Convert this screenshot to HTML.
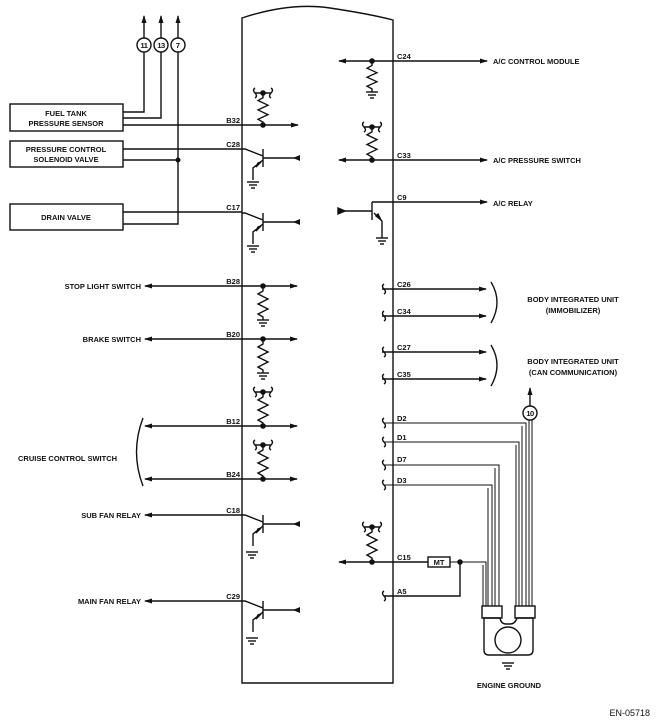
<!DOCTYPE html>
<html><head><meta charset="utf-8"><style>
html,body{margin:0;padding:0;background:#fff;}
svg{display:block;}
text{font-family:"Liberation Sans",sans-serif;font-weight:bold;font-size:7.5px;fill:#111;}
</style></head><body>
<svg width="660" height="726" viewBox="0 0 660 726" xmlns="http://www.w3.org/2000/svg">
<defs>
<marker id="ar" markerWidth="8" markerHeight="6" refX="7" refY="3" orient="auto" markerUnits="userSpaceOnUse"><path d="M0,0.5 L8,3 L0,5.5z" fill="#111"/></marker>
<g id="gnd"><line x1="-6" y1="0" x2="6" y2="0"/><line x1="-4" y1="3" x2="4" y2="3"/><line x1="-2" y1="6" x2="2" y2="6"/></g>
<g id="res"><polyline points="0,0 0,5 -5,8 5,13 -5,18 5,23 -5,28 0,31 0,34" fill="none"/></g>
<g id="brc"><path d="M-8,-5 q-3,2 0,5 q3,3 0,5 M8,-5 q3,2 0,5 q-3,3 0,5 M-8,0 L8,0" fill="none"/></g>
<g id="tr"><line x1="0" y1="-9" x2="0" y2="9"/><polyline points="-21,-9 -18,-9 0,-2" fill="none"/><path d="M0,2 L-10,10 L-10,22" fill="none"/><path d="M-2,4 L-7,9 L-5,5z" fill="#111"/></g>
</defs>
<g stroke="#111" stroke-width="1.4" fill="none">
<!-- ECM box -->
<path d="M242,683 L242,18 Q290,2 330,8 Q370,14 393,20 L393,683 Z"/>
<!-- top arrows -->
<line x1="144" y1="38" x2="144" y2="16" marker-end="url(#ar)"/>
<line x1="161" y1="38" x2="161" y2="16" marker-end="url(#ar)"/>
<line x1="178" y1="38" x2="178" y2="16" marker-end="url(#ar)"/>
<circle cx="144" cy="45" r="7"/><circle cx="161" cy="45" r="7"/><circle cx="178" cy="45" r="7"/>
<!-- boxes -->
<rect x="10" y="104" width="113" height="27"/>
<rect x="10" y="141" width="113" height="26"/>
<rect x="10" y="204" width="113" height="26"/>
<polyline points="123,112 144,112 144,52"/>
<polyline points="123,118 161,118 161,52"/>
<line x1="123" y1="125" x2="298" y2="125" marker-end="url(#ar)"/>
<polyline points="123,149 242,149"/>
<polyline points="123,160 178,160"/>
<polyline points="178,52 178,224 123,224"/>
<polyline points="123,212 242,212"/>
<!-- B32 resistor -->
<use href="#brc" x="263" y="93"/><use href="#res" x="263" y="93" transform="scale(1,0.94)" transform-origin="263 93"/>
<!-- transistors left -->
<g transform="translate(263,158)"><use href="#tr"/></g>
<line x1="263" y1="158" x2="298" y2="158"/>
<g transform="translate(253,182)"><use href="#gnd"/></g>
<g transform="translate(263,222)"><use href="#tr"/></g>
<line x1="263" y1="222" x2="298" y2="222"/>
<g transform="translate(253,246)"><use href="#gnd"/></g>
<!-- B28 -->
<line x1="242" y1="286" x2="145" y2="286" marker-end="url(#ar)"/>
<line x1="242" y1="286" x2="297" y2="286" marker-end="url(#ar)"/>
<use href="#res" x="263" y="286"/><g transform="translate(263,320)"><use href="#gnd"/></g>
<!-- B20 -->
<line x1="242" y1="339" x2="145" y2="339" marker-end="url(#ar)"/>
<line x1="242" y1="339" x2="297" y2="339" marker-end="url(#ar)"/>
<use href="#res" x="263" y="339"/><g transform="translate(263,373)"><use href="#gnd"/></g>
<!-- B12 -->
<use href="#brc" x="263" y="392"/><use href="#res" x="263" y="392"/>
<line x1="242" y1="426" x2="145" y2="426" marker-end="url(#ar)"/>
<line x1="242" y1="426" x2="297" y2="426" marker-end="url(#ar)"/>
<!-- B24 -->
<use href="#brc" x="263" y="445"/><use href="#res" x="263" y="445"/>
<line x1="242" y1="479" x2="145" y2="479" marker-end="url(#ar)"/>
<line x1="242" y1="479" x2="297" y2="479" marker-end="url(#ar)"/>
<path d="M143,418 Q130,452 143,486"/>
<!-- C18 -->
<line x1="242" y1="515" x2="145" y2="515" marker-end="url(#ar)"/>
<g transform="translate(263,524)"><use href="#tr"/></g>
<line x1="263" y1="524" x2="298" y2="524"/>
<g transform="translate(252,552)"><use href="#gnd"/></g>
<!-- C29 -->
<line x1="242" y1="601" x2="145" y2="601" marker-end="url(#ar)"/>
<g transform="translate(263,610)"><use href="#tr"/></g>
<line x1="263" y1="610" x2="298" y2="610"/>
<g transform="translate(252,638)"><use href="#gnd"/></g>
<!-- C24 -->
<line x1="393" y1="61" x2="339" y2="61" marker-end="url(#ar)"/>
<line x1="393" y1="61" x2="487" y2="61" marker-end="url(#ar)"/>
<use href="#res" x="372" y="61" transform="scale(1,0.9)" transform-origin="372 61"/>
<g transform="translate(372,92)"><use href="#gnd"/></g>
<!-- C33 -->
<use href="#brc" x="372" y="127"/><use href="#res" x="372" y="127" transform="scale(1,0.97)" transform-origin="372 127"/>
<line x1="393" y1="160" x2="339" y2="160" marker-end="url(#ar)"/>
<line x1="393" y1="160" x2="487" y2="160" marker-end="url(#ar)"/>
<!-- C9 -->
<line x1="393" y1="202" x2="487" y2="202" marker-end="url(#ar)"/>
<line x1="372" y1="202" x2="393" y2="202"/>
<line x1="372" y1="211" x2="338" y2="211"/>
<path d="M338,208 L345,211 L338,214z" fill="#111"/>
<line x1="372" y1="202" x2="372" y2="220"/>
<path d="M374,213 L382,221 L382,238"/>
<path d="M376,216 L381,220 L378,214z" fill="#111"/>
<g transform="translate(382,238)"><use href="#gnd"/></g>
<!-- body integrated -->
<line x1="382" y1="289" x2="486" y2="289" marker-end="url(#ar)"/>
<line x1="382" y1="316" x2="486" y2="316" marker-end="url(#ar)"/>
<line x1="382" y1="352" x2="486" y2="352" marker-end="url(#ar)"/>
<line x1="382" y1="379" x2="486" y2="379" marker-end="url(#ar)"/>
<path d="M491,282 Q503,302 491,323"/>
<path d="M491,345 Q503,365 491,386"/>
<path d="M384,284 q-3,2 0,5 q3,3 0,5 M384,311 q-3,2 0,5 q3,3 0,5 M384,347 q-3,2 0,5 q3,3 0,5 M384,374 q-3,2 0,5 q3,3 0,5 M384,418 q-3,2 0,5 q3,3 0,5 M384,437 q-3,2 0,5 q3,3 0,5 M384,460 q-3,2 0,5 q3,3 0,5 M384,480 q-3,2 0,5 q3,3 0,5 M384,591 q-3,2 0,5 q3,3 0,5"/>
</g>
<g stroke="#111" stroke-width="1" fill="none">
<!-- D wires (double) -->
<polyline points="384,423 526,423 526,607"/><line x1="522" y1="426" x2="522" y2="607"/>
<polyline points="384,442 519,442 519,607"/><line x1="516" y1="445" x2="516" y2="607"/>
<polyline points="384,465 499,465 499,607"/><line x1="495" y1="468" x2="495" y2="607"/>
<polyline points="384,485 492,485 492,607"/><line x1="488" y1="488" x2="488" y2="607"/>
<line x1="529" y1="606" x2="529" y2="420"/><line x1="532" y1="606" x2="532" y2="420"/>
<polyline points="450,562 486,562 486,607"/><line x1="483" y1="565" x2="483" y2="607"/>
</g>
<g stroke="#111" stroke-width="1.4" fill="none">
<line x1="530" y1="406" x2="530" y2="388" marker-end="url(#ar)"/>
<circle cx="530" cy="413" r="7"/>
<!-- C15 -->
<use href="#brc" x="372" y="527"/><use href="#res" x="372" y="527"/>
<line x1="428" y1="562" x2="339" y2="562" marker-end="url(#ar)"/>
<rect x="428" y="557" width="22" height="10"/>
<polyline points="384,596 460,596 460,562"/>
<!-- engine ground -->
<rect x="482" y="606" width="20" height="12" fill="#fff"/>
<rect x="515" y="606" width="20" height="12" fill="#fff"/>
<path d="M484,618 L484,650 Q484,655 489,655 L528,655 Q533,655 533,650 L533,618 L517,618 Q515,624 510,624 L506,624 Q501,624 500,618 Z"/>
<circle cx="508" cy="640" r="13"/>
<g transform="translate(508,663)"><use href="#gnd"/></g>
</g>
<g fill="#111">
<circle cx="263" cy="93" r="2.8"/><circle cx="263" cy="125" r="2.8"/>
<circle cx="178" cy="160" r="2.5"/>
<circle cx="263" cy="286" r="2.8"/><circle cx="263" cy="339" r="2.8"/>
<circle cx="263" cy="392" r="2.8"/><circle cx="263" cy="426" r="2.8"/>
<circle cx="263" cy="445" r="2.8"/><circle cx="263" cy="479" r="2.8"/>
<circle cx="372" cy="61" r="2.8"/><circle cx="372" cy="127" r="2.8"/><circle cx="372" cy="160" r="2.8"/>
<circle cx="372" cy="527" r="2.8"/><circle cx="372" cy="562" r="2.8"/><circle cx="460" cy="562" r="2.8"/>
<path d="M293,158 L300,155 L300,161z"/><path d="M293,222 L300,219 L300,225z"/>
<path d="M293,524 L300,521 L300,527z"/><path d="M293,610 L300,607 L300,613z"/>
</g>
<g>
<text x="144" y="48" text-anchor="middle" font-size="8" letter-spacing="-0.5">11</text>
<text x="161" y="48" text-anchor="middle" font-size="8" letter-spacing="-0.5">13</text>
<text x="178" y="48" text-anchor="middle" font-size="8">7</text>
<text x="530" y="416" text-anchor="middle" font-size="8" letter-spacing="-0.5">10</text>
<text x="66" y="116" text-anchor="middle">FUEL TANK</text>
<text x="66" y="126" text-anchor="middle">PRESSURE SENSOR</text>
<text x="66" y="152" text-anchor="middle">PRESSURE CONTROL</text>
<text x="66" y="162" text-anchor="middle">SOLENOID VALVE</text>
<text x="66" y="220" text-anchor="middle">DRAIN VALVE</text>
<text x="240" y="123" text-anchor="end">B32</text>
<text x="240" y="147" text-anchor="end">C28</text>
<text x="240" y="210" text-anchor="end">C17</text>
<text x="240" y="284" text-anchor="end">B28</text>
<text x="240" y="337" text-anchor="end">B20</text>
<text x="240" y="424" text-anchor="end">B12</text>
<text x="240" y="477" text-anchor="end">B24</text>
<text x="240" y="513" text-anchor="end">C18</text>
<text x="240" y="599" text-anchor="end">C29</text>
<text x="141" y="289" text-anchor="end">STOP LIGHT SWITCH</text>
<text x="141" y="342" text-anchor="end">BRAKE SWITCH</text>
<text x="18" y="461">CRUISE CONTROL SWITCH</text>
<text x="141" y="518" text-anchor="end">SUB FAN RELAY</text>
<text x="141" y="604" text-anchor="end">MAIN FAN RELAY</text>
<text x="397" y="59">C24</text>
<text x="397" y="158">C33</text>
<text x="397" y="200">C9</text>
<text x="397" y="287">C26</text>
<text x="397" y="314">C34</text>
<text x="397" y="350">C27</text>
<text x="397" y="377">C35</text>
<text x="397" y="421">D2</text>
<text x="397" y="440">D1</text>
<text x="397" y="462">D7</text>
<text x="397" y="483">D3</text>
<text x="397" y="560">C15</text>
<text x="397" y="594">A5</text>
<text x="439" y="565" text-anchor="middle" font-size="7">MT</text>
<text x="493" y="64">A/C CONTROL MODULE</text>
<text x="493" y="163">A/C PRESSURE SWITCH</text>
<text x="493" y="206">A/C RELAY</text>
<text x="573" y="302" text-anchor="middle">BODY INTEGRATED UNIT</text>
<text x="573" y="313" text-anchor="middle">(IMMOBILIZER)</text>
<text x="573" y="364" text-anchor="middle">BODY INTEGRATED UNIT</text>
<text x="573" y="375" text-anchor="middle">(CAN COMMUNICATION)</text>
<text x="509" y="688" text-anchor="middle">ENGINE GROUND</text>
<text x="650" y="716" text-anchor="end" style="font-weight:normal;font-size:9px">EN-05718</text>
</g>
</svg>
</body></html>
